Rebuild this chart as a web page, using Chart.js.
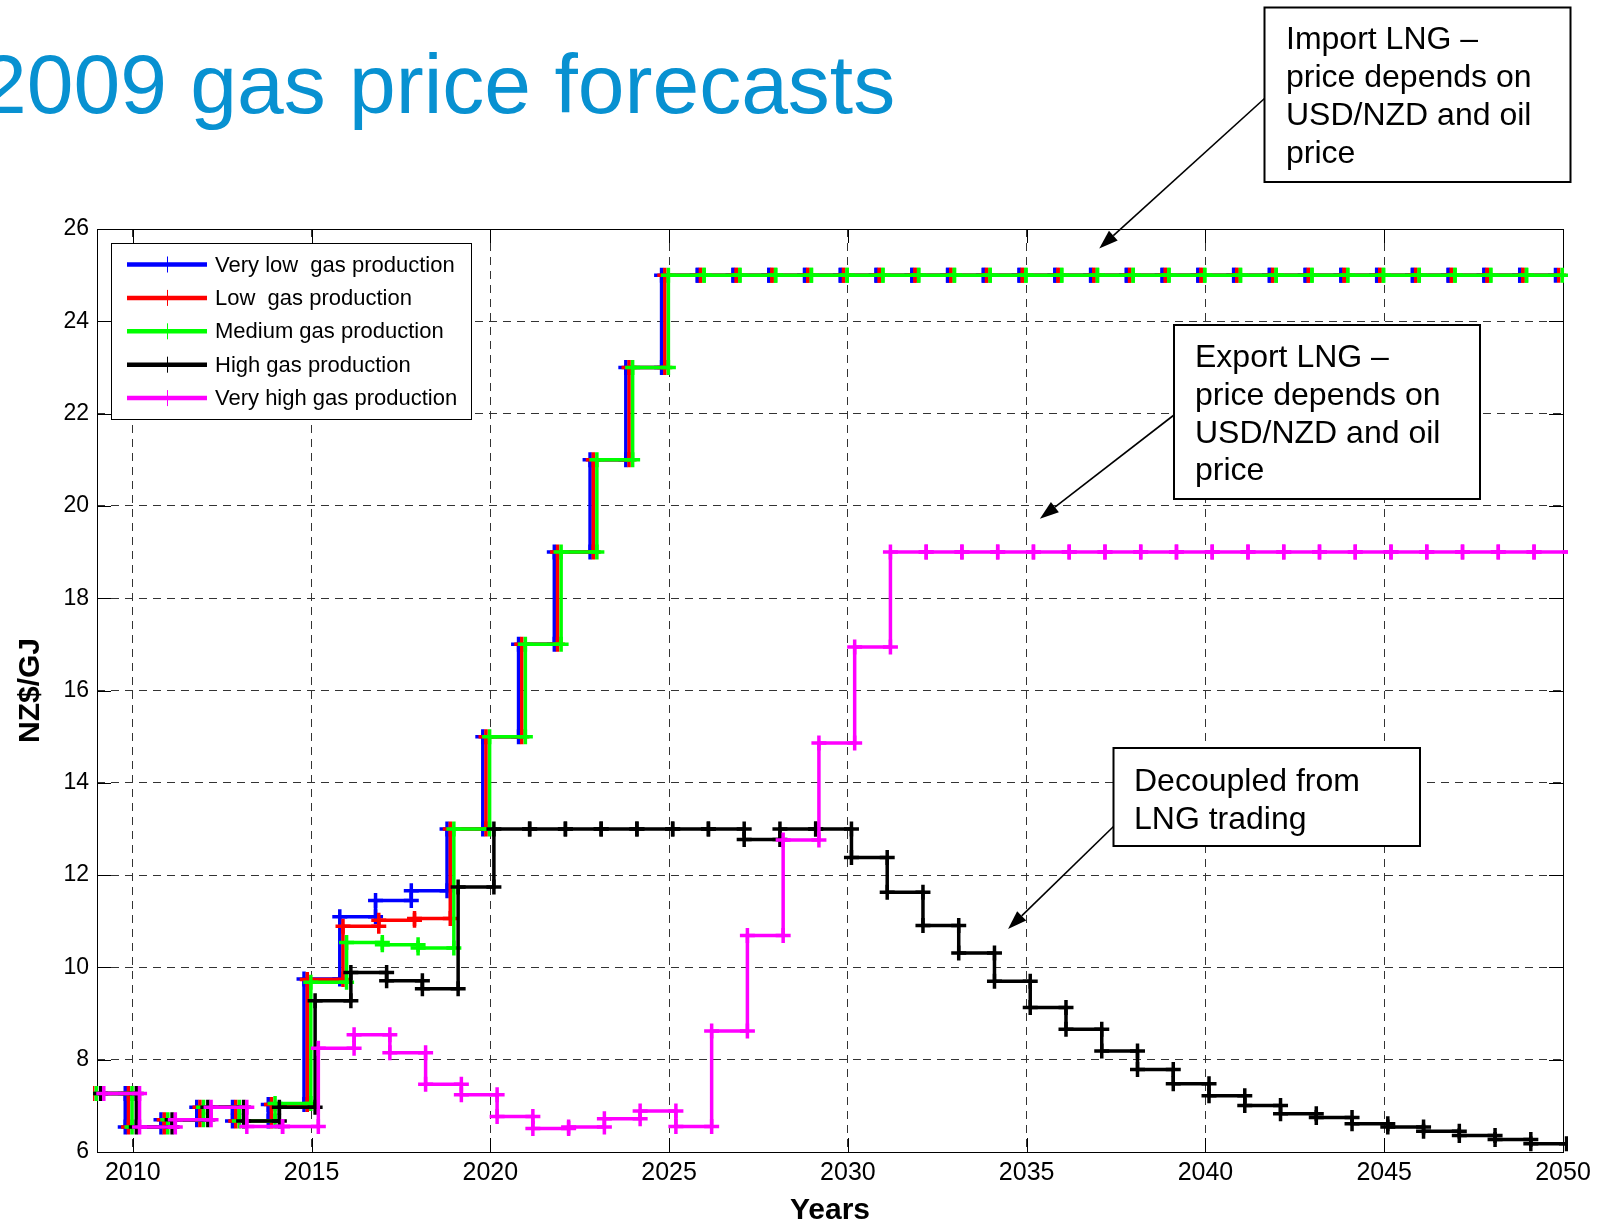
<!DOCTYPE html>
<html>
<head>
<meta charset="utf-8">
<title>2009 gas price forecasts</title>
<script src="https://cdn.jsdelivr.net/npm/chart.js@4.4.1/dist/chart.umd.min.js"></script>
<style>
  html, body { margin: 0; padding: 0; background: #fff; overflow: hidden; }
  #wrap { position: relative; width: 1604px; height: 1226px; }
</style>
</head>
<body>
<div id="wrap"><canvas id="myChart"></canvas></div>
<script>
// years (each value holds from that year to the next)
const years = [2009, 2010, 2011, 2012, 2013, 2014, 2015, 2016, 2017, 2018,
  2019, 2020, 2021, 2022, 2023, 2024, 2025, 2026, 2027, 2028,
  2029, 2030, 2031, 2032, 2033, 2034, 2035, 2036, 2037, 2038,
  2039, 2040, 2041, 2042, 2043, 2044, 2045, 2046, 2047, 2048, 2049];

// NZ$/GJ
const veryLowGas = [7.27, 6.54, 6.70, 6.97, 6.67, 7.03, 9.75, 11.10, 11.45, 11.66,
  13.0, 15.0, 17.0, 19.0, 21.0, 23.0, 25.0, 25.0, 25.0, 25.0,
  25.0, 25.0, 25.0, 25.0, 25.0, 25.0, 25.0, 25.0, 25.0, 25.0,
  25.0, 25.0, 25.0, 25.0, 25.0, 25.0, 25.0, 25.0, 25.0, 25.0, 25.0];
const lowGas = [7.27, 6.54, 6.70, 6.97, 6.67, 7.03, 9.74, 10.89, 11.02, 11.06,
  13.0, 15.0, 17.0, 19.0, 21.0, 23.0, 25.0, 25.0, 25.0, 25.0,
  25.0, 25.0, 25.0, 25.0, 25.0, 25.0, 25.0, 25.0, 25.0, 25.0,
  25.0, 25.0, 25.0, 25.0, 25.0, 25.0, 25.0, 25.0, 25.0, 25.0, 25.0];
const mediumGas = [7.27, 6.54, 6.70, 6.97, 6.67, 7.05, 9.68, 10.54, 10.49, 10.42,
  13.0, 15.0, 17.0, 19.0, 21.0, 23.0, 25.0, 25.0, 25.0, 25.0,
  25.0, 25.0, 25.0, 25.0, 25.0, 25.0, 25.0, 25.0, 25.0, 25.0,
  25.0, 25.0, 25.0, 25.0, 25.0, 25.0, 25.0, 25.0, 25.0, 25.0, 25.0];
const highGas = [7.27, 6.54, 6.70, 6.97, 6.67, 6.97, 9.28, 9.89, 9.71, 9.54,
  11.74, 13.0, 13.0, 13.0, 13.0, 13.0, 13.0, 13.0, 12.77, 13.0,
  13.0, 12.38, 11.63, 10.91, 10.31, 9.70, 9.13, 8.66, 8.19, 7.79,
  7.48, 7.22, 7.01, 6.83, 6.75, 6.61, 6.54, 6.45, 6.36, 6.27, 6.18];
const veryHighGas = [7.27, 6.54, 6.70, 6.97, 6.55, 6.55, 8.25, 8.54, 8.15, 7.47,
  7.24, 6.77, 6.51, 6.54, 6.72, 6.89, 6.55, 8.62, 10.69, 12.76,
  14.86, 16.94, 19.0, 19.0, 19.0, 19.0, 19.0, 19.0, 19.0, 19.0,
  19.0, 19.0, 19.0, 19.0, 19.0, 19.0, 19.0, 19.0, 19.0, 19.0, 19.0];

const xTicks = [2010, 2015, 2020, 2025, 2030, 2035, 2040, 2045, 2050];
const yTicks = [6, 8, 10, 12, 14, 16, 18, 20, 22, 24, 26];

const titleText = '2009 gas price forecasts';
const noteImport = ['Import LNG \u2013', 'price depends on', 'USD/NZD and oil', 'price'];
const noteExport = ['Export LNG \u2013', 'price depends on', 'USD/NZD and oil', 'price'];
const noteDecoupled = ['Decoupled from', 'LNG trading'];

const FONT = '"Liberation Sans", Arial, Helvetica, sans-serif';
Chart.defaults.font.family = FONT;
Chart.defaults.color = '#000';

// MATLAB stairs look: each year gives a flat run to the next year, markers at both ends
function stairs(values, shift) {
  const pts = [];
  values.forEach((v, i) => {
    pts.push({ x: years[i] + shift, y: v });
    pts.push({ x: years[i] + 1 + shift, y: v });
  });
  return pts;
}

function series(label, values, color, shift, order) {
  return {
    label: label,
    data: stairs(values, shift),
    borderColor: color,
    backgroundColor: color,
    borderWidth: 3.5,
    pointStyle: 'cross',
    pointRadius: 7.5,
    pointBorderWidth: 3.5,
    pointBorderColor: color,
    tension: 0,
    order: order,
    clip: { left: 4, top: false, right: 5, bottom: false },
  };
}

// callout boxes (pixels) and arrow tips (data units)
const callouts = [
  { lines: noteImport, box: [1264.5, 7.5, 306, 174.5], textX: 1286, base: 49, step: 38,
    from: [1264.5, 98.5], tip: [2037.03, 25.58] },
  { lines: noteExport, box: [1174, 325, 306, 174], textX: 1195, base: 367, step: 37.8,
    from: [1174, 415], tip: [2035.37, 19.72] },
  { lines: noteDecoupled, box: [1113.5, 748, 306.5, 98], textX: 1134, base: 791, step: 37.6,
    from: [1113.5, 826.5], tip: [2034.48, 10.83] },
];

const decor = {
  id: 'decor',
  beforeDatasetsDraw(chart) {
    const { ctx, chartArea: a, scales } = chart;
    ctx.save();
    ctx.strokeStyle = '#000';
    ctx.lineWidth = 1;
    ctx.strokeRect(a.left + 0.5, a.top + 0.5, a.right - a.left, a.bottom - a.top);
    const tl = 14;
    ctx.beginPath();
    xTicks.forEach(t => {
      const x = Math.round(scales.x.getPixelForValue(t)) + 0.5;
      ctx.moveTo(x, a.bottom); ctx.lineTo(x, a.bottom - tl);
      ctx.moveTo(x, a.top); ctx.lineTo(x, a.top + tl);
    });
    yTicks.forEach(t => {
      const y = Math.round(scales.y.getPixelForValue(t)) + 0.5;
      ctx.moveTo(a.left, y); ctx.lineTo(a.left + tl, y);
      ctx.moveTo(a.right, y); ctx.lineTo(a.right - tl, y);
    });
    ctx.stroke();
    ctx.restore();
  },
  afterDraw(chart) {
    const { ctx, scales } = chart;
    ctx.save();

    // legend
    const lx = 111, ly = 243, lw = 360, lh = 176;
    ctx.fillStyle = '#fff';
    ctx.fillRect(lx, ly, lw, lh);
    ctx.strokeStyle = '#000';
    ctx.lineWidth = 1;
    ctx.strokeRect(lx + 0.5, ly + 0.5, lw, lh);
    ctx.font = '22px ' + FONT;
    ctx.textBaseline = 'middle';
    ctx.textAlign = 'left';
    chart.data.datasets.forEach((ds, i) => {
      const y = 264.5 + i * 33.4;
      ctx.strokeStyle = ds.borderColor;
      ctx.lineWidth = 4.5;
      ctx.beginPath();
      ctx.moveTo(127, y); ctx.lineTo(207, y);
      ctx.stroke();
      ctx.lineWidth = 1;
      ctx.beginPath();
      ctx.moveTo(167.5, y - 8); ctx.lineTo(167.5, y + 8);
      ctx.stroke();
      ctx.fillStyle = '#000';
      ctx.fillText(ds.label, 215, y + 1);
    });

    // callouts
    callouts.forEach(c => {
      const [bx, by, bw, bh] = c.box;
      ctx.fillStyle = '#fff';
      ctx.fillRect(bx, by, bw, bh);
      ctx.strokeStyle = '#000';
      ctx.lineWidth = 2;
      ctx.strokeRect(bx, by, bw, bh);
      ctx.fillStyle = '#000';
      ctx.font = '32px ' + FONT;
      ctx.textBaseline = 'alphabetic';
      c.lines.forEach((t, i) => ctx.fillText(t, c.textX, c.base + i * c.step));

      const tx = scales.x.getPixelForValue(c.tip[0]);
      const ty = scales.y.getPixelForValue(c.tip[1]);
      const [fx, fy] = c.from;
      const ang = Math.atan2(ty - fy, tx - fx);
      const hl = 19, hw = 6.5;
      const bxp = tx - hl * Math.cos(ang), byp = ty - hl * Math.sin(ang);
      ctx.lineWidth = 1.6;
      ctx.beginPath();
      ctx.moveTo(fx, fy); ctx.lineTo(bxp, byp);
      ctx.stroke();
      ctx.beginPath();
      ctx.moveTo(tx, ty);
      ctx.lineTo(bxp + hw * Math.sin(ang), byp - hw * Math.cos(ang));
      ctx.lineTo(bxp - hw * Math.sin(ang), byp + hw * Math.cos(ang));
      ctx.closePath();
      ctx.fill();
    });

    // slide title (cut at the left edge like the original)
    ctx.fillStyle = '#0891d1';
    ctx.font = '84px ' + FONT;
    ctx.textBaseline = 'alphabetic';
    ctx.fillText(titleText, -20, 113);
    ctx.restore();
  }
};

const ctx = document.getElementById('myChart');

new Chart(ctx, {
  type: 'line',
  data: {
    datasets: [
      series('Very low  gas production', veryLowGas, '#0000ff', -0.21, 5),
      series('Low  gas production', lowGas, '#ff0000', -0.12, 4),
      series('Medium gas production', mediumGas, '#00ff00', -0.02, 3),
      series('High gas production', highGas, '#000000', 0.10, 2),
      series('Very high gas production', veryHighGas, '#ff00ff', 0.19, 1),
    ],
  },
  options: {
    responsive: true,
    maintainAspectRatio: false,
    animation: false,
    events: [],
    layout: { padding: { left: 0, top: 229, right: 41, bottom: 0 } },
    plugins: {
      legend: { display: false },
      tooltip: { enabled: false },
    },
    scales: {
      x: {
        type: 'linear',
        min: 2009,
        max: 2050,
        afterBuildTicks: (s) => { s.ticks = xTicks.map(v => ({ value: v })); },
        afterFit: (s) => { s.height = 74; },
        ticks: { font: { size: 25 }, padding: 6, color: '#000', maxRotation: 0,
          callback: (v) => String(v) },
        grid: { color: '#333', lineWidth: 1, drawTicks: false },
        border: { display: false, dash: [8, 6] },
        title: { display: true, text: 'Years', font: { size: 30, weight: 'bold', lineHeight: 1 },
          color: '#000', padding: { top: 0, bottom: 0 } },
      },
      y: {
        type: 'linear',
        min: 6,
        max: 26,
        afterBuildTicks: (s) => { s.ticks = yTicks.map(v => ({ value: v })); },
        afterFit: (s) => { s.width = 97; },
        ticks: { font: { size: 23 }, padding: 8, color: '#000' },
        grid: { color: '#333', lineWidth: 1, drawTicks: false },
        border: { display: false, dash: [8, 6] },
        title: { display: true, text: 'NZ$/GJ', font: { size: 30, weight: 'bold', lineHeight: 1 },
          color: '#000', padding: { top: 16, bottom: 0 } },
      },
    },
  },
  plugins: [decor],
});
</script>
</body>
</html>
